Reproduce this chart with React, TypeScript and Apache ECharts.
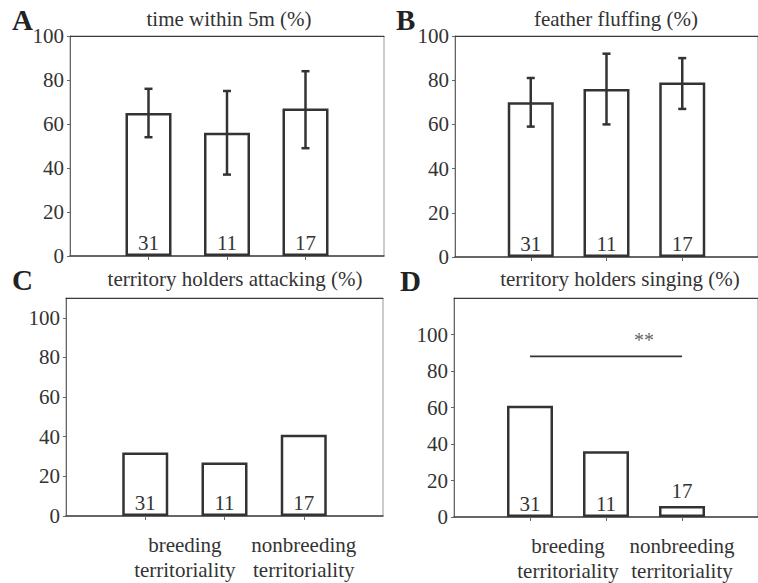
import React, { useEffect, useRef } from "react";
import * as echarts from "echarts";

// ---- data ----
const sampleSizes = [31, 11, 17];
const barPositions = [1, 2, 3];
const groupLabels = ["breeding\nterritoriality", "nonbreeding\nterritoriality"];
const yTicks = [0, 20, 40, 60, 80, 100];

const timeWithin5m = [65, 56, 67];
const timeWithin5mLow = [54, 37, 49];
const timeWithin5mHigh = [76, 75, 84];

const featherFluffing = [70, 76, 79];
const featherFluffingLow = [59, 60, 67];
const featherFluffingHigh = [81, 92, 90];

const holdersAttacking = [32, 27, 41];
const holdersSinging = [61, 36, 6];

const sigFrom = 1;
const sigTo = 3;
const sigLevel = 88;
const sigText = "**";
const sigTextPos = [2.5, 97];

const panelTitles = [
  "time within 5m (%)",
  "feather fluffing (%)",
  "territory holders attacking (%)",
  "territory holders singing (%)",
];
const panelLetters = ["A", "B", "C", "D"];

// ---- style ----
const FONT = "'Liberation Serif', 'Times New Roman', 'DejaVu Serif', serif";
const TEXT = "#333";
const DARK = "#333";

export default function App() {
  const ref = useRef<HTMLDivElement>(null);

  useEffect(() => {
    document.body.style.margin = "0";
    if (!ref.current) return;
    const chart = echarts.init(ref.current, undefined, { renderer: "svg" });

    const grids = [
      { left: 70, top: 36, width: 314, height: 220 },
      { left: 455, top: 36, width: 314, height: 221 },
      { left: 66, top: 298, width: 317, height: 218 },
      { left: 454, top: 298, width: 314, height: 221 },
    ].map((g) => ({ ...g, show: true, borderColor: "#999", borderWidth: 1, backgroundColor: "transparent" }));

    const yMax = [100, 100, 110, 120];

    const xAxes: any[] = grids.map((_, i) => ({
      type: "value",
      gridIndex: i,
      position: "bottom",
      min: 0,
      max: 4,
      splitLine: { show: false },
      axisLine: { show: true, lineStyle: { color: "#444", width: 1.5 } },
      axisTick: { show: true, customValues: barPositions, length: 4, lineStyle: { color: "#666", width: 1 } },
      axisLabel:
        i >= 2
          ? {
              show: true,
              customValues: [(barPositions[0] + barPositions[1]) / 2, barPositions[2]],
              formatter: (v: number) => (v === barPositions[2] ? groupLabels[1] : groupLabels[0]),
              fontFamily: FONT,
              fontSize: 21,
              color: TEXT,
              lineHeight: 25,
              margin: 16,
            }
          : { show: false },
    }));
    // dark top frame line for each panel
    grids.forEach((_, i) => {
      xAxes.push({
        type: "value",
        gridIndex: i,
        position: "top",
        min: 0,
        max: 4,
        splitLine: { show: false },
        axisLine: { show: true, lineStyle: { color: "#3a3a3a", width: 1.2 } },
        axisTick: { show: false },
        axisLabel: { show: false },
      });
    });

    const yAxes = grids.map((_, i) => ({
      type: "value",
      gridIndex: i,
      min: 0,
      max: yMax[i],
      splitLine: { show: false },
      axisLine: { show: true, lineStyle: { color: "#666", width: 1 } },
      axisTick: { show: true, customValues: yTicks, length: 3, lineStyle: { color: "#666", width: 1 } },
      axisLabel: {
        show: true,
        customValues: yTicks,
        fontFamily: FONT,
        fontSize: 21,
        color: TEXT,
        margin: 6,
      },
    }));

    const barSeries = (idx: number, values: number[], special?: boolean) => ({
      type: "bar",
      xAxisIndex: idx,
      yAxisIndex: idx,
      barWidth: 46,
      z: 2,
      itemStyle: { color: "#fff", borderColor: DARK, borderWidth: 2.5 },
      label: {
        show: true,
        position: "insideBottom",
        distance: 3,
        fontFamily: FONT,
        fontSize: 21,
        color: TEXT,
        formatter: (p: any) => String(sampleSizes[p.dataIndex]),
      },
      data: values.map((v, k) =>
        special && k === 2
          ? { value: [barPositions[k], v], label: { position: "top", distance: 5 } }
          : { value: [barPositions[k], v] }
      ),
    });

    const errorSeries = (idx: number, low: number[], high: number[]) => ({
      type: "custom",
      xAxisIndex: idx,
      yAxisIndex: idx,
      z: 3,
      data: low.map((l, k) => [barPositions[k], l, high[k]]),
      renderItem: (params: any, api: any) => {
        const x = api.value(0);
        const lo = api.coord([x, api.value(1)]);
        const hi = api.coord([x, api.value(2)]);
        const cap = 4;
        const style = { stroke: DARK, lineWidth: 2.5, fill: null };
        return {
          type: "group",
          children: [
            { type: "line", shape: { x1: lo[0], y1: lo[1], x2: hi[0], y2: hi[1] }, style },
            { type: "line", shape: { x1: hi[0] - cap, y1: hi[1], x2: hi[0] + cap, y2: hi[1] }, style },
            { type: "line", shape: { x1: lo[0] - cap, y1: lo[1], x2: lo[0] + cap, y2: lo[1] }, style },
          ],
        };
      },
    });

    const sigSeries = {
      type: "custom",
      xAxisIndex: 3,
      yAxisIndex: 3,
      z: 3,
      data: [[sigFrom, sigTo, sigLevel, sigTextPos[0], sigTextPos[1]]],
      renderItem: (params: any, api: any) => {
        const a = api.coord([api.value(0), api.value(2)]);
        const b = api.coord([api.value(1), api.value(2)]);
        const t = api.coord([api.value(3), api.value(4)]);
        return {
          type: "group",
          children: [
            { type: "line", shape: { x1: a[0], y1: a[1], x2: b[0], y2: b[1] }, style: { stroke: DARK, lineWidth: 1.8 } },
            {
              type: "text",
              x: t[0],
              y: t[1],
              style: {
                text: sigText,
                fontFamily: FONT,
                fontSize: 20,
                fill: "#666",
                align: "center",
                verticalAlign: "middle",
              },
            },
          ],
        };
      },
    };

    const titlePos = [
      [229, 19],
      [616, 19],
      [235, 279],
      [620, 279],
    ];
    const letterPos = [
      [12, 20],
      [396, 20],
      [12, 280],
      [400, 281],
    ];

    const graphic: any[] = [];
    panelTitles.forEach((t, i) => {
      graphic.push({
        type: "text",
        x: titlePos[i][0],
        y: titlePos[i][1],
        style: { text: t, fontFamily: FONT, fontSize: 21, fill: TEXT, align: "center", verticalAlign: "middle" },
      });
    });
    panelLetters.forEach((t, i) => {
      graphic.push({
        type: "text",
        x: letterPos[i][0],
        y: letterPos[i][1],
        style: { text: t, fontFamily: FONT, fontSize: 29, fontWeight: "bold", fill: "#222", align: "left", verticalAlign: "middle" },
      });
    });

    chart.setOption({
      animation: false,
      backgroundColor: "#fff",
      grid: grids,
      xAxis: xAxes,
      yAxis: yAxes,
      graphic,
      series: [
        barSeries(0, timeWithin5m),
        errorSeries(0, timeWithin5mLow, timeWithin5mHigh),
        barSeries(1, featherFluffing),
        errorSeries(1, featherFluffingLow, featherFluffingHigh),
        barSeries(2, holdersAttacking),
        barSeries(3, holdersSinging, true),
        sigSeries,
      ],
    });

    return () => chart.dispose();
  }, []);

  return <div ref={ref} style={{ width: 758, height: 583 }} />;
}
